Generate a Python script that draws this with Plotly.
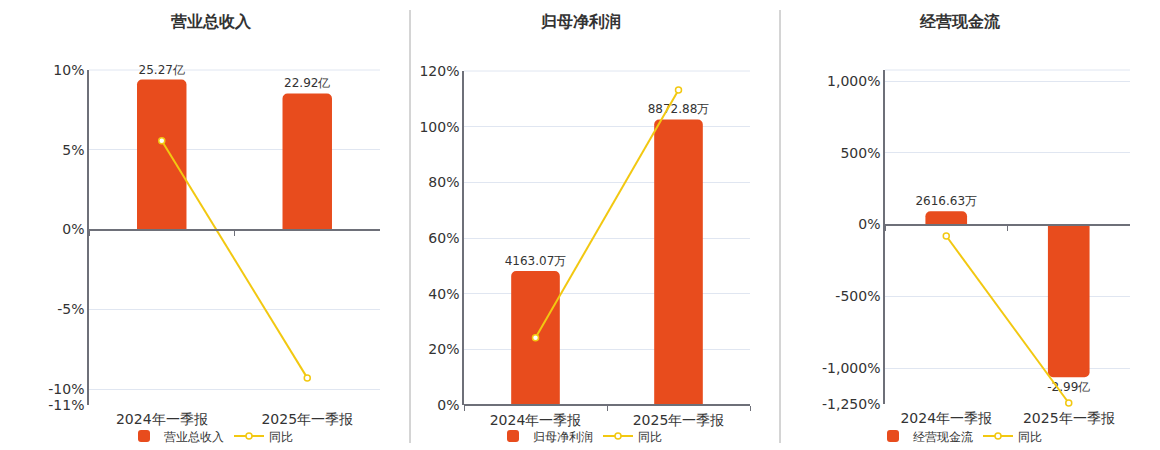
import plotly.graph_objects as go

# data (values in 亿, yoy in %)
periods = ["2024年一季报", "2025年一季报"]

titles = ["营业总收入", "归母净利润", "经营现金流"]

revenue = [25.27, 22.92]
revenue_labels = ["25.27亿", "22.92亿"]
revenue_yoy = [5.57, -9.30]

profit = [0.416307, 0.887288]
profit_labels = ["4163.07万", "8872.88万"]
profit_yoy = [24.2, 113.13]

cashflow = [0.261663, -2.99]
cashflow_labels = ["2616.63万", "-2.99亿"]
cashflow_yoy = [-79.6, -1243.0]

# percent tick labels per panel
ticks1 = [10, 5, 0, -5, -10, -11]
ticks2 = [0, 20, 40, 60, 80, 100, 120]
ticks3 = [1000, 500, 0, -500, -1000, -1250]

BAR = "#E84C1D"
LINE = "#F2C811"
AXIS = "#6E7079"
GRID = "#E0E6F1"
FONT = "DejaVu Sans"

W, H = 1160, 450
OFF = 8  # page body margin

panels = [
    dict(vals=revenue, labels=revenue_labels, yoy=revenue_yoy, ticks=ticks1,
         pct=[-11, 10], scale=2.687, xd=[89, 380], yd=[70, 405], center=211),
    dict(vals=profit, labels=profit_labels, yoy=profit_yoy, ticks=ticks2,
         pct=[0, 120], scale=0.008648, xd=[464, 750], yd=[71, 405], center=580),
    dict(vals=cashflow, labels=cashflow_labels, yoy=cashflow_yoy, ticks=ticks3,
         pct=[-1250, 1077], scale=0.002811, xd=[885, 1130], yd=[70, 404], center=960),
]


def px(x):
    return (x - OFF) / W


def py(y):
    return 1 - (y - OFF) / H


fig = go.Figure()
layout = dict(width=W, height=H, margin=dict(l=0, r=0, t=0, b=0, autoexpand=False),
              template="none",
              paper_bgcolor="white", plot_bgcolor="white",
              font=dict(family=FONT, size=12, color="#333"),
              barcornerradius=5, shapes=[], annotations=[])


def tick_text(v):
    return f"{v:,}%"


for i, p in enumerate(panels):
    n = i + 1
    xa = "x" if n == 1 else f"x{n}"
    yb = "y" if n == 1 else f"y{2 * n - 1}"
    yl = f"y{2 * n}"
    leg = "legend" if n == 1 else f"legend{n}"

    xdom = [px(p["xd"][0]), px(p["xd"][1])]
    ydom = [py(p["yd"][1]), py(p["yd"][0])]
    lo, hi = p["pct"]
    zero_pos = ydom[0] + (ydom[1] - ydom[0]) * (-lo) / (hi - lo)
    zero_px = p["yd"][0] + (p["yd"][1] - p["yd"][0]) * hi / (hi - lo)
    standoff = int(round(p["yd"][1] - zero_px + 2))

    fig.add_trace(go.Bar(
        x=periods, y=p["vals"], name=titles[i], xaxis=xa, yaxis=yb,
        marker=dict(color=BAR, line=dict(width=0)), width=0.34,
        text=p["labels"], textposition="outside", cliponaxis=False,
        constraintext="none",
        textfont=dict(size=12, color="#333"), legend=leg, hoverinfo="skip"))
    fig.add_trace(go.Scatter(
        x=periods, y=p["yoy"], name="同比", xaxis=xa, yaxis=yl,
        mode="lines+markers", line=dict(color=LINE, width=2),
        marker=dict(symbol="circle", size=6, color="white",
                    line=dict(color=LINE, width=1.5)),
        legend=leg, cliponaxis=False))

    k = "" if n == 1 else str(n)
    # category axis drawn on the zero line, labels pushed down to the bottom
    layout[f"xaxis{k}"] = dict(
        domain=xdom, type="category", range=[-0.5, 1.5], automargin=False,
        anchor="free", position=zero_pos, showline=True, linecolor=AXIS,
        linewidth=2, ticks="outside", tickson="boundaries", ticklen=5,
        tickcolor=AXIS, showgrid=False, zeroline=False,
        ticklabelstandoff=standoff, tickfont=dict(size=14, color="#333"))
    layout[f"yaxis{'' if n == 1 else 2 * n - 1}"] = dict(
        domain=ydom, anchor=xa, range=[lo * p["scale"], hi * p["scale"]],
        automargin=False,
        showticklabels=False, showgrid=False, zeroline=False, showline=False)
    layout[f"yaxis{2 * n}"] = dict(
        domain=ydom, anchor=xa, overlaying=yb, side="left", range=[lo, hi],
        automargin=False,
        tickvals=p["ticks"], ticktext=[tick_text(t) for t in p["ticks"]],
        tickfont=dict(size=14, color="#333"), showgrid=True, gridcolor=GRID,
        gridwidth=1, zeroline=False, showline=True, linecolor=AXIS,
        linewidth=1.5, ticks="", ticklabelstandoff=0)
    layout[leg] = dict(orientation="h", x=px(p["center"]), xanchor="center",
                       y=py(436), yanchor="middle",
                       font=dict(size=12, color="#333"),
                       bgcolor="rgba(0,0,0,0)", itemwidth=30, tracegroupgap=0)

    layout["annotations"].append(dict(
        text=f"<b>{titles[i]}</b>", x=px(p["center"]), y=py(22),
        xref="paper", yref="paper", showarrow=False,
        xanchor="center", yanchor="middle",
        font=dict(size=16, color="#333")))

    # top border line of plot area
    layout["shapes"].append(dict(
        type="line", xref="paper", yref="paper", x0=xdom[0], x1=xdom[1],
        y0=ydom[1], y1=ydom[1], line=dict(color=GRID, width=1), layer="below"))

# dividers between panels
for xd in [410, 780]:
    layout["shapes"].append(dict(
        type="line", xref="paper", yref="paper", x0=px(xd), x1=px(xd),
        y0=py(443), y1=py(10), line=dict(color="#AAAAAA", width=1)))

fig.update_layout(**layout)
fig.write_html("out.html")
